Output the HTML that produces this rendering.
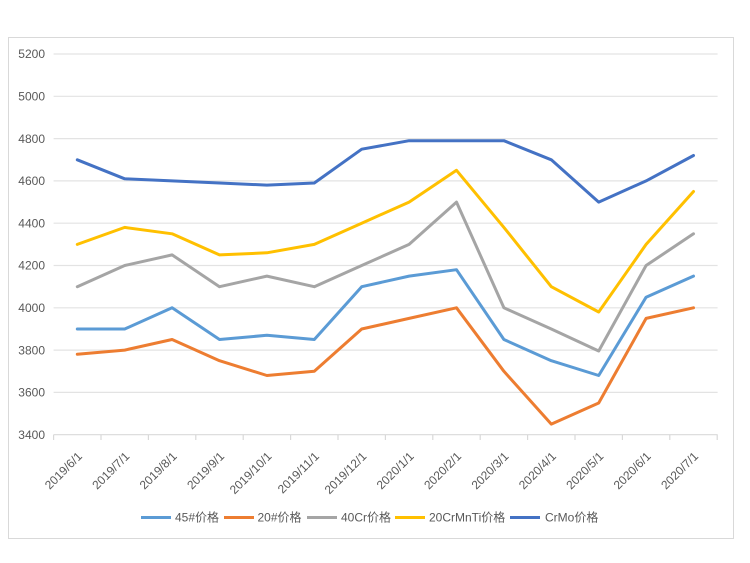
<!DOCTYPE html>
<html>
<head>
<meta charset="utf-8">
<style>
  html,body{margin:0;padding:0;background:#fff;}
  svg{display:block;}
  text{font-family:"Liberation Sans","Noto Sans CJK SC",sans-serif;fill:#595959;}
</style>
</head>
<body>
<svg width="750" height="563" viewBox="0 0 750 563" xmlns="http://www.w3.org/2000/svg">
  <rect x="0" y="0" width="750" height="563" fill="#fff"/>
  <rect x="8.5" y="37.5" width="725" height="501" fill="#fff" stroke="#D9D9D9" stroke-width="1"/>

  <!-- gridlines -->
  <g stroke="#E3E3E3" stroke-width="1.2">
    <line x1="53.6" y1="54" x2="717.6" y2="54"/>
    <line x1="53.6" y1="96.3" x2="717.6" y2="96.3"/>
    <line x1="53.6" y1="138.6" x2="717.6" y2="138.6"/>
    <line x1="53.6" y1="180.9" x2="717.6" y2="180.9"/>
    <line x1="53.6" y1="223.2" x2="717.6" y2="223.2"/>
    <line x1="53.6" y1="265.5" x2="717.6" y2="265.5"/>
    <line x1="53.6" y1="307.8" x2="717.6" y2="307.8"/>
    <line x1="53.6" y1="350.1" x2="717.6" y2="350.1"/>
    <line x1="53.6" y1="392.4" x2="717.6" y2="392.4"/>
  </g>
  <!-- x axis -->
  <g stroke="#D9D9D9" stroke-width="1.2">
    <line x1="53.6" y1="434.7" x2="717.6" y2="434.7"/>
    <line x1="53.6" y1="434.7" x2="53.6" y2="440"/>
    <line x1="101" y1="434.7" x2="101" y2="440"/>
    <line x1="148.4" y1="434.7" x2="148.4" y2="440"/>
    <line x1="195.8" y1="434.7" x2="195.8" y2="440"/>
    <line x1="243.2" y1="434.7" x2="243.2" y2="440"/>
    <line x1="290.6" y1="434.7" x2="290.6" y2="440"/>
    <line x1="338" y1="434.7" x2="338" y2="440"/>
    <line x1="385.4" y1="434.7" x2="385.4" y2="440"/>
    <line x1="432.8" y1="434.7" x2="432.8" y2="440"/>
    <line x1="480.2" y1="434.7" x2="480.2" y2="440"/>
    <line x1="527.6" y1="434.7" x2="527.6" y2="440"/>
    <line x1="575" y1="434.7" x2="575" y2="440"/>
    <line x1="622.4" y1="434.7" x2="622.4" y2="440"/>
    <line x1="669.8" y1="434.7" x2="669.8" y2="440"/>
    <line x1="717.2" y1="434.7" x2="717.2" y2="440"/>
  </g>

  <!-- y labels -->
  <g font-size="12" text-anchor="end">
    <text x="45" y="58.2">5200</text>
    <text x="45" y="100.5">5000</text>
    <text x="45" y="142.8">4800</text>
    <text x="45" y="185.1">4600</text>
    <text x="45" y="227.4">4400</text>
    <text x="45" y="269.7">4200</text>
    <text x="45" y="312">4000</text>
    <text x="45" y="354.3">3800</text>
    <text x="45" y="396.6">3600</text>
    <text x="45" y="438.9">3400</text>
  </g>

  <!-- x labels -->
  <g font-size="12" text-anchor="end">
    <text x="82.8" y="457" transform="rotate(-45 82.8 457)">2019/6/1</text>
    <text x="130.2" y="457" transform="rotate(-45 130.2 457)">2019/7/1</text>
    <text x="177.6" y="457" transform="rotate(-45 177.6 457)">2019/8/1</text>
    <text x="225" y="457" transform="rotate(-45 225 457)">2019/9/1</text>
    <text x="272.4" y="457" transform="rotate(-45 272.4 457)">2019/10/1</text>
    <text x="319.8" y="457" transform="rotate(-45 319.8 457)">2019/11/1</text>
    <text x="367.2" y="457" transform="rotate(-45 367.2 457)">2019/12/1</text>
    <text x="414.6" y="457" transform="rotate(-45 414.6 457)">2020/1/1</text>
    <text x="462" y="457" transform="rotate(-45 462 457)">2020/2/1</text>
    <text x="509.4" y="457" transform="rotate(-45 509.4 457)">2020/3/1</text>
    <text x="556.8" y="457" transform="rotate(-45 556.8 457)">2020/4/1</text>
    <text x="604.2" y="457" transform="rotate(-45 604.2 457)">2020/5/1</text>
    <text x="651.6" y="457" transform="rotate(-45 651.6 457)">2020/6/1</text>
    <text x="699" y="457" transform="rotate(-45 699 457)">2020/7/1</text>
  </g>

  <!-- series -->
  <g fill="none" stroke-width="3" stroke-linejoin="round" stroke-linecap="round">
    <polyline stroke="#5B9BD5" points="77.3,329.0 124.7,329.0 172.1,307.8 219.5,339.5 266.9,335.3 314.3,339.5 361.7,286.7 409.1,276.1 456.5,269.7 503.9,339.5 551.3,360.7 598.7,375.5 646.1,297.2 693.5,276.1"/>
    <polyline stroke="#ED7D31" points="77.3,354.3 124.7,350.1 172.1,339.5 219.5,360.7 266.9,375.5 314.3,371.3 361.7,329.0 409.1,318.4 456.5,307.8 503.9,371.3 551.3,424.1 598.7,403.0 646.1,318.4 693.5,307.8"/>
    <polyline stroke="#A5A5A5" points="77.3,286.7 124.7,265.5 172.1,254.9 219.5,286.7 266.9,276.1 314.3,286.7 361.7,265.5 409.1,244.4 456.5,202.1 503.9,307.8 551.3,329.0 598.7,351.0 646.1,265.5 693.5,233.8"/>
    <polyline stroke="#FFC000" points="77.3,244.4 124.7,227.4 172.1,233.8 219.5,254.9 266.9,252.8 314.3,244.4 361.7,223.2 409.1,202.1 456.5,170.3 503.9,227.4 551.3,286.7 598.7,312.0 646.1,244.4 693.5,191.5"/>
    <polyline stroke="#4472C4" points="77.3,159.8 124.7,178.8 172.1,180.9 219.5,183.0 266.9,185.1 314.3,183.0 361.7,149.2 409.1,140.7 456.5,140.7 503.9,140.7 551.3,159.8 598.7,202.1 646.1,180.9 693.5,155.5"/>
  </g>

  <!-- legend -->
  <g stroke-width="3" stroke-linecap="butt">
    <line x1="141" y1="517.5" x2="171" y2="517.5" stroke="#5B9BD5"/>
    <line x1="224" y1="517.5" x2="254" y2="517.5" stroke="#ED7D31"/>
    <line x1="307" y1="517.5" x2="337" y2="517.5" stroke="#A5A5A5"/>
    <line x1="395" y1="517.5" x2="425" y2="517.5" stroke="#FFC000"/>
    <line x1="510" y1="517.5" x2="540" y2="517.5" stroke="#4472C4"/>
  </g>
  <g font-size="12">
    <text x="175" y="521.7">45#价格</text>
    <text x="257.5" y="521.7">20#价格</text>
    <text x="341" y="521.7">40Cr价格</text>
    <text x="429" y="521.7">20CrMnTi价格</text>
    <text x="545" y="521.7">CrMo价格</text>
  </g>
</svg>
</body>
</html>
